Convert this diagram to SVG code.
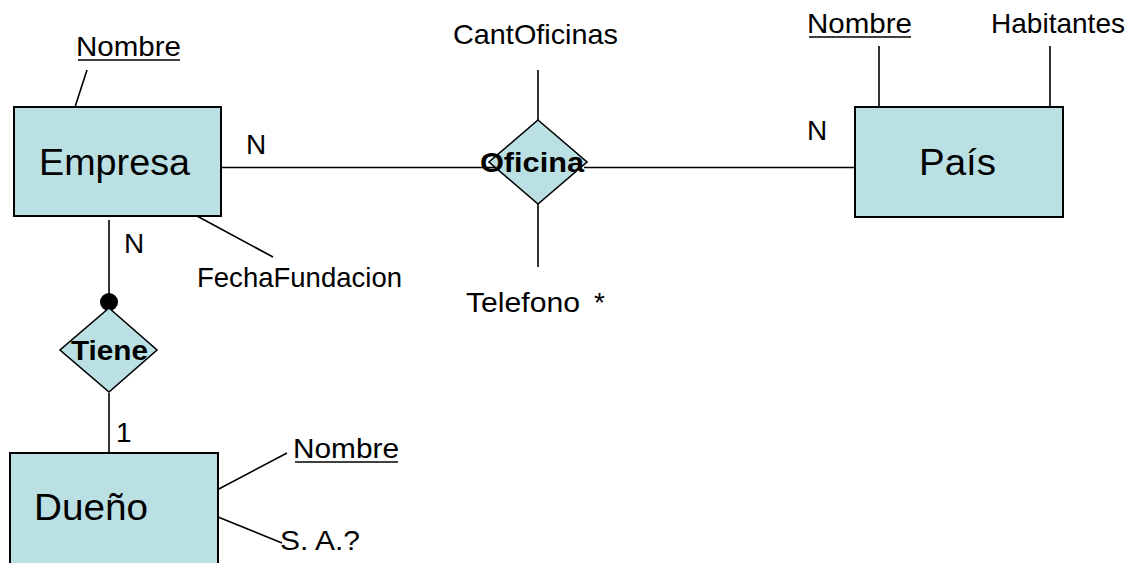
<svg xmlns="http://www.w3.org/2000/svg" width="1134" height="563" viewBox="0 0 1134 563">
<style>
.ent{fill:#BBE0E3;stroke:#000;stroke-width:2}
.rel{fill:#BBE0E3;stroke:#000;stroke-width:1.6}
.ln{stroke:#000;stroke-width:1.6;fill:none}
.s{font-family:"Liberation Sans",Arial,sans-serif;font-size:28px;fill:#000}
.b{font-family:"Liberation Sans",Arial,sans-serif;font-size:37px;fill:#000}
.r{font-family:"Liberation Sans",Arial,sans-serif;font-size:28px;font-weight:bold;fill:#000}
</style>
<rect width="1134" height="563" fill="#fff"/>
<g id="connectors">
<line class="ln" x1="87" y1="70" x2="75" y2="107"/>
<line class="ln" x1="197" y1="216" x2="273" y2="257"/>
<line class="ln" x1="221" y1="167.5" x2="495" y2="167.5"/>
<line class="ln" x1="584" y1="167.5" x2="855" y2="167.5"/>
<line class="ln" x1="538" y1="70" x2="538" y2="120"/>
<line class="ln" x1="538" y1="204" x2="538" y2="267"/>
<line class="ln" x1="879" y1="46" x2="879" y2="107"/>
<line class="ln" x1="1050" y1="46" x2="1050" y2="107"/>
<line class="ln" x1="109" y1="220" x2="109" y2="302"/>
<circle cx="109" cy="302" r="9" fill="#000"/>
<line class="ln" x1="109" y1="393" x2="109" y2="453"/>
<line class="ln" x1="287" y1="453" x2="215" y2="491"/>
<line class="ln" x1="218" y1="517" x2="282" y2="543"/>
</g>
<g id="empresa">
<rect class="ent" x="14" y="107" width="207" height="109"/>
<text class="b" x="39" y="175" textLength="151" lengthAdjust="spacingAndGlyphs">Empresa</text>
</g>
<g id="empresa-nombre">
<text class="s" x="76" y="56" textLength="105" lengthAdjust="spacingAndGlyphs">Nombre</text>
<line class="ln" x1="78" y1="60" x2="180" y2="60"/>
</g>
<g id="empresa-fecha">
<text class="s" x="197" y="287" textLength="205" lengthAdjust="spacingAndGlyphs">FechaFundacion</text>
</g>
<g id="oficina">
<polygon class="rel" points="538,120 587,162 538,204 489,162"/>
<text class="r" x="480" y="172" textLength="104" lengthAdjust="spacingAndGlyphs">Oficina</text>
</g>
<g id="cantoficinas"><text class="s" x="453" y="44" textLength="165" lengthAdjust="spacingAndGlyphs">CantOficinas</text></g>
<g id="telefono"><text class="s" x="466" y="312"><tspan textLength="114" lengthAdjust="spacingAndGlyphs">Telefono</tspan><tspan x="594">*</tspan></text></g>
<g id="pais">
<rect class="ent" x="855" y="107" width="208" height="110"/>
<text class="b" x="919" y="175" textLength="77" lengthAdjust="spacingAndGlyphs">País</text>
</g>
<g id="pais-nombre">
<text class="s" x="807" y="33" textLength="105" lengthAdjust="spacingAndGlyphs">Nombre</text>
<line class="ln" x1="809" y1="37" x2="911" y2="37"/>
</g>
<g id="habitantes"><text class="s" x="991" y="33" textLength="134" lengthAdjust="spacingAndGlyphs">Habitantes</text></g>
<g id="tiene">
<polygon class="rel" points="109,308 157,350 109,392 60,350"/>
<text class="r" x="71" y="360" textLength="77" lengthAdjust="spacingAndGlyphs">Tiene</text>
</g>
<g id="dueno">
<rect class="ent" x="10" y="453" width="208" height="120"/>
<text class="b" x="34" y="520" textLength="114" lengthAdjust="spacingAndGlyphs">Dueño</text>
</g>
<g id="dueno-nombre">
<text class="s" x="293" y="458" textLength="106" lengthAdjust="spacingAndGlyphs">Nombre</text>
<line class="ln" x1="295" y1="462" x2="398" y2="462"/>
</g>
<g id="sa"><text class="s" x="280" y="550" textLength="80" lengthAdjust="spacingAndGlyphs">S. A.?</text></g>
<g id="labels">
<text class="s" x="246" y="154">N</text>
<text class="s" x="124" y="253">N</text>
<text class="s" x="807" y="140">N</text>
<text class="s" x="116" y="442">1</text>
</g>
</svg>
